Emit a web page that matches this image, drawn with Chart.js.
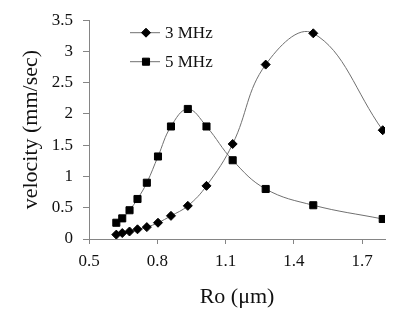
<!DOCTYPE html>
<html>
<head>
<meta charset="utf-8">
<script src="https://cdn.jsdelivr.net/npm/chart.js@4/dist/chart.umd.min.js"></script>
<style>
html,body{margin:0;padding:0;background:#fff;}
#wrap{width:400px;height:312px;position:relative;}
</style>
</head>
<body>
<div id="wrap"><canvas id="c" width="400" height="312"></canvas></div>
<script>
// Data
const radius = [0.62, 0.646, 0.678, 0.713, 0.754, 0.803, 0.86, 0.934, 1.016, 1.131, 1.276, 1.485, 1.79];
const vel3MHz = [0.07, 0.095, 0.12, 0.155, 0.19, 0.26, 0.37, 0.53, 0.85, 1.52, 2.79, 3.29, 1.74];
const vel5MHz = [0.26, 0.33, 0.46, 0.64, 0.90, 1.32, 1.80, 2.08, 1.80, 1.26, 0.80, 0.54, 0.32];
const seriesLabels = ["3 MHz", "5 MHz"];
const xTicks = [0.5, 0.8, 1.1, 1.4, 1.7];
const yTicks = [0, 0.5, 1, 1.5, 2, 2.5, 3, 3.5];

const FONT = "'Liberation Serif', 'Times New Roman', serif";
const AXIS = '#858585';
const LINE = '#707070';

const toPts = ys => radius.map((x, i) => ({x, y: ys[i]}));

const legendPlugin = {
  id: 'insideLegend',
  afterDraw(chart) {
    const ctx = chart.ctx, ca = chart.chartArea;
    ctx.save();
    chart.data.datasets.forEach((ds, i) => {
      const y = ca.top + 12.5 + i * 29;
      const x0 = ca.left + 41, x1 = ca.left + 71;
      ctx.strokeStyle = LINE; ctx.lineWidth = 1;
      ctx.beginPath(); ctx.moveTo(x0, y); ctx.lineTo(x1, y); ctx.stroke();
      ctx.fillStyle = '#000'; ctx.strokeStyle = '#000';
      Chart.helpers.drawPoint(ctx, {pointStyle: ds.pointStyle, radius: ds.pointRadius, rotation: 0, borderWidth: 1}, (x0 + x1) / 2 + 1, y);
      ctx.fillStyle = '#111';
      ctx.font = '17px ' + FONT;
      ctx.textBaseline = 'middle'; ctx.textAlign = 'left';
      ctx.fillText(ds.label, x1 + 5, y + 1);
    });
    ctx.restore();
  }
};

new Chart(document.getElementById('c'), {
  type: 'scatter',
  data: {
    datasets: [
      {label: seriesLabels[0], data: toPts(vel3MHz), showLine: true, tension: 0.4,
       borderColor: LINE, borderWidth: 1, pointStyle: 'rectRot', pointRadius: 4.5,
       pointBackgroundColor: '#000', pointBorderColor: '#000', pointBorderWidth: 1},
      {label: seriesLabels[1], data: toPts(vel5MHz), showLine: true, tension: 0.4,
       borderColor: LINE, borderWidth: 1, pointStyle: 'rect', pointRadius: 5,
       pointBackgroundColor: '#000', pointBorderColor: '#000', pointBorderWidth: 1}
    ]
  },
  options: {
    responsive: false,
    animation: false,
    events: [],
    layout: {padding: {top: 20, right: 15, left: 0, bottom: 0}},
    plugins: {legend: {display: false}, tooltip: {enabled: false}},
    scales: {
      x: {
        type: 'linear', min: 0.5, max: 1.8,
        afterBuildTicks: s => { s.ticks = xTicks.map(v => ({value: v})); },
        afterFit: s => { s.height = 73; },
        ticks: {font: {family: FONT, size: 17}, color: '#111', padding: 7,
                callback: v => v.toFixed(1)},
        grid: {drawOnChartArea: false, drawTicks: true, tickLength: 5, color: AXIS},
        border: {display: true, color: AXIS, width: 1},
        title: {display: true, text: 'Ro (μm)', font: {family: FONT, size: 22}, color: '#111',
                padding: {top: 0, bottom: 2}}
      },
      y: {
        type: 'linear', min: 0, max: 3.5,
        afterBuildTicks: s => { s.ticks = yTicks.map(v => ({value: v})); },
        afterFit: s => { s.width = 89; },
        ticks: {font: {family: FONT, size: 17}, color: '#111', padding: 10,
                callback: v => String(v)},
        grid: {drawOnChartArea: false, drawTicks: true, tickLength: 6, color: AXIS},
        border: {display: true, color: AXIS, width: 1},
        title: {display: true, text: 'velocity (mm/sec)', font: {family: FONT, size: 22}, color: '#111',
                padding: {top: 18, bottom: 0}}
      }
    }
  },
  plugins: [legendPlugin]
});
</script>
</body>
</html>
